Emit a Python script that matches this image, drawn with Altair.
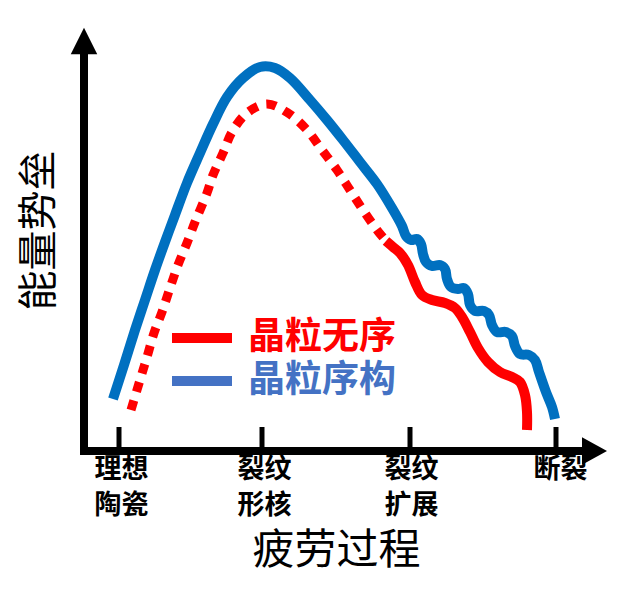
import altair as alt
import pandas as pd

FONT = "Noto Sans CJK SC"

# ---- curve readings (x: fatigue process, y: energy barrier; both in plot units) ----
blue_x = [29, 40, 51, 61, 71, 81, 91, 103, 116, 129, 143, 159, 176, 191, 206, 226, 243, 259, 276, 293,
          308, 318, 322, 327, 333, 337, 339, 342, 348, 356, 361, 363, 367, 374, 380, 384, 386, 391, 400,
          405, 408, 413, 422, 428, 431, 436, 445, 451, 455, 462, 468, 471]
blue_y = [52, 86, 121, 151, 181, 209, 236, 268, 298, 327, 354, 373, 384, 383, 373, 351, 331, 311, 289, 267,
          243, 225, 215, 211, 212, 207, 197, 189, 185, 186, 182, 172, 164, 162, 163, 157, 146, 140, 140,
          136, 126, 119, 119, 115, 105, 97, 96, 91, 79, 59, 44, 32]

red_dot_x = [47, 56, 63, 70, 78, 86, 94, 103, 111, 123, 129, 139, 148, 163, 183, 204, 223, 238, 253, 266, 279, 293, 302]
red_dot_y = [41, 71, 94, 118, 139, 163, 186, 208, 229, 258, 276, 298, 319, 338, 347, 338, 321, 301, 281, 261, 241, 221, 210]

red_solid_x = [302, 309, 316, 324, 331, 338, 348, 361, 371, 378, 386, 394, 404, 416, 428, 436, 441, 443, 443]
red_solid_y = [210, 204, 198, 186, 169, 156, 151, 148, 143, 134, 119, 103, 89, 79, 74, 69, 56, 39, 21]

# ---- axis / stage labels ----
stage_names = [["理想", "陶瓷"], ["裂纹", "形核"], ["裂纹", "扩展"], ["断裂"]]
stage_ticks = [35, 178, 326, 472]
stage_label_pos = [37, 180, 327, 476]

legend_names = ["晶粒无序", "晶粒序构"]
legend_colors = ["#FF0000", "#4472C4"]
legend_y = [113, 70]

X_MAX, Y_MAX = 523, 423

def frame(xs, ys):
    return pd.DataFrame({"x": xs, "y": ys, "i": list(range(len(xs)))})

xs = alt.Scale(domain=[0, X_MAX], nice=False, zero=False)
ys = alt.Scale(domain=[0, Y_MAX], nice=False, zero=False)

label_expr = ""
for pos, name in zip(stage_label_pos, stage_names):
    arr = "[" + ",".join("'" + s + "'" for s in name) + "]"
    label_expr += f"datum.value == {pos} ? {arr} : "
label_expr += "''"

x_axis = alt.Axis(values=stage_label_pos, labelExpr=label_expr, domain=False, ticks=False, grid=False,
                  labelFont=FONT, labelFontSize=27, labelFontWeight="bold", labelColor="black",
                  labelLineHeight=36, labelPadding=5, labelOverlap=False, labelAngle=0,
                  title="疲劳过程", titleFont=FONT, titleFontSize=42, titleFontWeight="normal",
                  titleColor="black", titleX=252, titleY=99, titleBaseline="middle", titleAlign="center")
y_axis = alt.Axis(values=[0], labels=False, domain=False, ticks=False, grid=False,
                  title="能量势垒", titleFont=FONT, titleFontSize=40, titleFontWeight="normal",
                  titleColor="black", titleX=-45, titleY=202, titleBaseline="middle", titleAlign="center",
                  titleAngle=270)

def X():
    return alt.X("x:Q", scale=xs, axis=x_axis)

def Y():
    return alt.Y("y:Q", scale=ys, axis=y_axis)

# axis lines
axis_lines = pd.DataFrame({"x": [-4, 0], "y": [0, -4], "x2": [506, 0], "y2": [0, 400]})
axes = alt.Chart(axis_lines).mark_rule(color="black", strokeWidth=8).encode(
    x=X(), y=Y(), x2="x2:Q", y2="y2:Q")

tick_df = pd.DataFrame({"x": stage_ticks, "y": [0] * 4, "y2": [24] * 4})
ticks = alt.Chart(tick_df).mark_rule(color="black", strokeWidth=5).encode(x=X(), y=Y(), y2="y2:Q")

arrow_r = alt.Chart(pd.DataFrame({"x": [510.5], "y": [0]})).mark_point(
    shape="M-1,-1.1L1,0L-1,1.1Z", size=625, filled=True, color="black", opacity=1, strokeWidth=0
).encode(x=X(), y=Y())
arrow_u = alt.Chart(pd.DataFrame({"x": [0], "y": [410]})).mark_point(
    shape="M-1,1L0,-1L1,1Z", size=700, filled=True, color="black", opacity=1, strokeWidth=0
).encode(x=X(), y=Y())

blue = alt.Chart(frame(blue_x, blue_y)).mark_line(
    color="#0070C0", strokeWidth=10, interpolate="catmull-rom", strokeCap="butt"
).encode(x=X(), y=Y(), order="i:Q")

red_dot = alt.Chart(frame(red_dot_x, red_dot_y)).mark_line(
    color="#FF0000", strokeWidth=9, interpolate="catmull-rom", strokeDash=[10, 9], strokeCap="butt"
).encode(x=X(), y=Y(), order="i:Q")

red_solid = alt.Chart(frame(red_solid_x, red_solid_y)).mark_line(
    color="#FF0000", strokeWidth=10, interpolate="catmull-rom", strokeCap="butt"
).encode(x=X(), y=Y(), order="i:Q")

leg_line_df = pd.DataFrame({"x": [88, 88], "x2": [148, 148], "y": legend_y, "c": legend_colors})
leg_lines = alt.Chart(leg_line_df).mark_rule(strokeWidth=10).encode(
    x=X(), x2="x2:Q", y=Y(), color=alt.Color("c:N", scale=None))
leg_text_df = pd.DataFrame({"x": [164, 164], "y": legend_y, "c": legend_colors, "t": legend_names})
leg_text = alt.Chart(leg_text_df).mark_text(
    align="left", baseline="middle", font=FONT, fontSize=37, fontWeight="bold"
).encode(x=X(), y=Y(), text="t:N", color=alt.Color("c:N", scale=None))

chart = alt.layer(axes, ticks, arrow_r, arrow_u, blue, red_dot, red_solid, leg_lines, leg_text).properties(
    width=X_MAX, height=Y_MAX,
    padding={"left": 76, "top": 20, "right": 20, "bottom": 130},
    autosize=alt.AutoSizeParams(type="none"),
    background="white",
).configure_view(stroke=None)

chart.save("out.html", embed_options={"renderer": "svg", "actions": False})
